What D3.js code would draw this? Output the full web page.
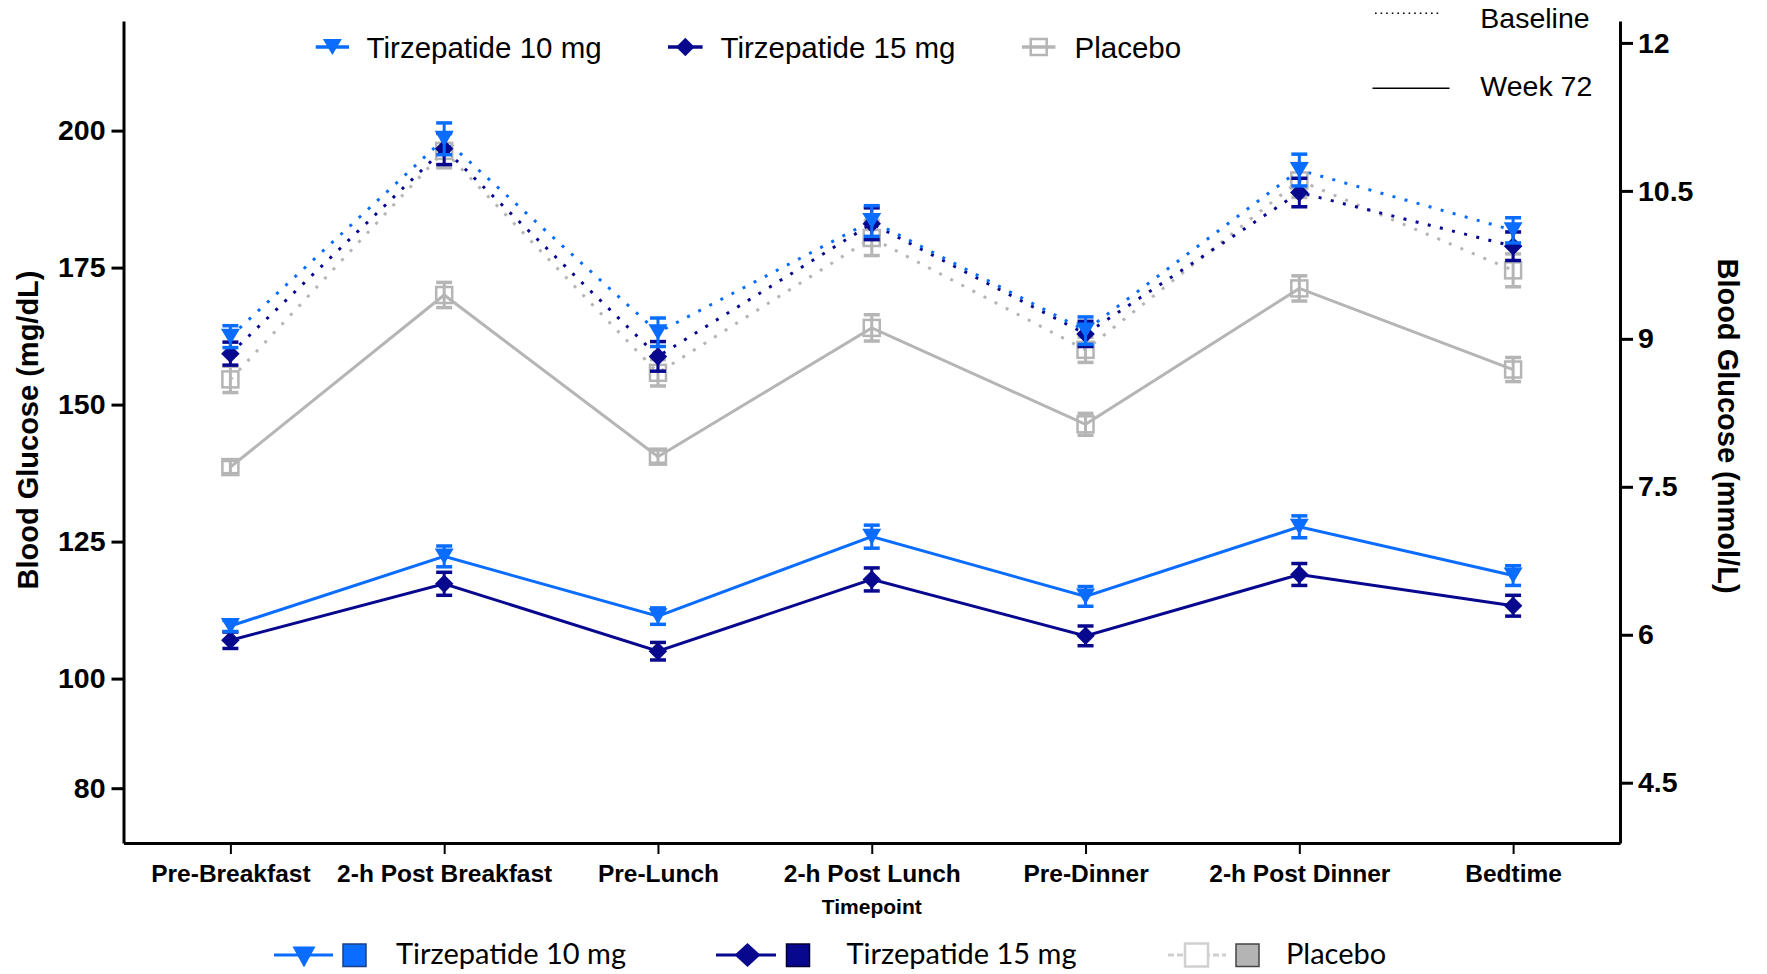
<!DOCTYPE html>
<html>
<head>
<meta charset="utf-8">
<script src="https://cdn.jsdelivr.net/npm/d3@7"></script>
<style>
  html, body { margin: 0; padding: 0; background: #ffffff; }
  svg { display: block; }
  .sans { font-family: "Liberation Sans", Arial, sans-serif; }
</style>
</head>
<body>
<svg id="chart" width="1767" height="974"></svg>
<script>
// Timepoints along the day
const categories = ["Pre-Breakfast", "2-h Post Breakfast", "Pre-Lunch", "2-h Post Lunch",
                    "Pre-Dinner", "2-h Post Dinner", "Bedtime"];

// Mean blood glucose (mg/dL) and SE at baseline
const t10Base    = [162.4, 198.5, 163.2, 183.5, 163.5, 192.8, 181.8];
const t10BaseErr = [2.0, 2.9, 2.6, 2.8, 2.5, 2.9, 2.3];
const t15Base    = [159.3, 196.7, 158.8, 183.0, 162.9, 188.7, 178.9];
const t15BaseErr = [2.1, 2.9, 2.7, 2.9, 2.3, 2.6, 2.6];
const pboBase    = [154.6, 196.3, 155.8, 180.4, 160.0, 190.9, 174.5];
const pboBaseErr = [2.4, 3.1, 2.4, 3.2, 2.3, 3.1, 3.0];

// Mean blood glucose (mg/dL) and SE at week 72
const t10Wk72    = [109.6, 122.3, 111.4, 125.9, 115.0, 127.7, 118.8];
const t10Wk72Err = [1.0, 1.9, 1.5, 2.1, 1.8, 2.0, 1.8];
const t15Wk72    = [107.0, 117.3, 105.0, 118.1, 107.8, 119.0, 113.3];
const t15Wk72Err = [1.5, 2.1, 1.6, 2.1, 1.8, 2.0, 1.9];
const pboWk72    = [138.6, 170.0, 140.5, 164.0, 146.4, 171.2, 156.4];
const pboWk72Err = [1.2, 2.3, 1.2, 2.4, 2.0, 2.3, 2.2];

// Axis ticks
const mgTicks   = [80, 100, 125, 150, 175, 200];
const mmolTicks = [4.5, 6, 7.5, 9, 10.5, 12];
const MG_PER_MMOL = 18;

// Legend labels
const armNames    = ["Tirzepatide 10 mg", "Tirzepatide 15 mg", "Placebo"];
const periodNames = ["Baseline", "Week 72"];

const C10 = "#0a6dff", C15 = "#08088f", CPB = "#b5b5b5";

const svg = d3.select("#chart");

const plotLeft = 123.5, plotRight = 1620, plotTop = 21, plotBottom = 843;
const x = d3.scalePoint().domain(categories).range([plotLeft, plotRight]).padding(0.5);
const y = d3.scaleLinear().domain([70, 220]).range([plotBottom, plotTop]);
const yR = d3.scaleLinear().domain([70 / MG_PER_MMOL, 220 / MG_PER_MMOL]).range([plotBottom, plotTop]);

// Marker shapes
function triPath(w, h) { return `M${-w/2},${-h/2}L${w/2},${-h/2}L0,${h/2}Z`; }
function diaPath(w, h) { return `M0,${-h/2}L${w/2},0L0,${h/2}L${-w/2},0Z`; }

function drawMarker(g, kind, cx, cy) {
  if (kind === "tri") {
    g.append("path").attr("d", triPath(19, 16))
      .attr("transform", `translate(${cx},${cy})`).attr("fill", C10);
  } else if (kind === "dia") {
    g.append("path").attr("d", diaPath(18.5, 18.5))
      .attr("transform", `translate(${cx},${cy})`).attr("fill", C15);
  } else {
    const s = 16;
    g.append("rect").attr("x", cx - s/2).attr("y", cy - s/2).attr("width", s).attr("height", s)
      .attr("fill", "none").attr("stroke", CPB).attr("stroke-width", 2.5);
  }
}

const series = [
  { vals: pboBase, err: pboBaseErr, color: CPB, kind: "sq",  dotted: true },
  { vals: t15Base, err: t15BaseErr, color: C15, kind: "dia", dotted: true },
  { vals: t10Base, err: t10BaseErr, color: C10, kind: "tri", dotted: true },
  { vals: pboWk72, err: pboWk72Err, color: CPB, kind: "sq",  dotted: false },
  { vals: t15Wk72, err: t15Wk72Err, color: C15, kind: "dia", dotted: false },
  { vals: t10Wk72, err: t10Wk72Err, color: C10, kind: "tri", dotted: false }
];

const plot = svg.append("g");
const line = d3.line().x((d, i) => x(categories[i])).y(d => y(d));

// Connecting lines
series.forEach(s => {
  const p = plot.append("path").datum(s.vals).attr("d", line)
    .attr("fill", "none").attr("stroke", s.color);
  if (s.dotted) p.attr("stroke-width", 3).attr("stroke-dasharray", "3 9.5");
  else p.attr("stroke-width", 3);
});

// Error bars and markers
series.forEach(s => {
  const g = plot.append("g");
  s.vals.forEach((v, i) => {
    const cx = x(categories[i]);
    const y1 = y(v + s.err[i]), y2 = y(v - s.err[i]);
    g.append("line").attr("x1", cx).attr("x2", cx).attr("y1", y1).attr("y2", y2)
      .attr("stroke", s.color).attr("stroke-width", 3);
    [y1, y2].forEach(yy => g.append("line").attr("x1", cx - 8).attr("x2", cx + 8)
      .attr("y1", yy).attr("y2", yy).attr("stroke", s.color).attr("stroke-width", 3.5));
    drawMarker(g, s.kind, cx, y(v));
  });
});

// Axes
function styleAxis(g) {
  g.selectAll("path.domain").attr("stroke", "#000").attr("stroke-width", 3);
  g.selectAll(".tick line").attr("stroke", "#000").attr("stroke-width", 3);
  g.selectAll("text").attr("fill", "#000").attr("font-family", "Liberation Sans, Arial, sans-serif")
    .attr("font-weight", "bold");
}

const gL = svg.append("g").attr("transform", `translate(${plotLeft},0)`)
  .call(d3.axisLeft(y).tickValues(mgTicks).tickSize(12).tickSizeOuter(0).tickPadding(6));
styleAxis(gL);
gL.selectAll("text").attr("font-size", 28.5);

const gR = svg.append("g").attr("transform", `translate(${plotRight},0)`)
  .call(d3.axisRight(yR).tickValues(mmolTicks).tickSize(13).tickSizeOuter(0).tickPadding(5)
    .tickFormat(d3.format("")));
styleAxis(gR);
gR.selectAll("text").attr("font-size", 28.5);

const gB = svg.append("g").attr("transform", `translate(0,${plotBottom})`)
  .call(d3.axisBottom(x).tickSize(11).tickSizeOuter(0).tickPadding(11));
styleAxis(gB);
gB.selectAll(".tick line").attr("stroke-width", 2);
gB.selectAll("text").attr("font-size", 24.5);

// Axis titles
svg.append("text").attr("class", "sans").attr("transform", "translate(38,430) rotate(-90)")
  .attr("text-anchor", "middle").attr("font-size", 29).attr("font-weight", "bold")
  .text("Blood Glucose (mg/dL)");
svg.append("text").attr("class", "sans").attr("transform", "translate(1717.5,426) rotate(90)")
  .attr("text-anchor", "middle").attr("font-size", 29).attr("font-weight", "bold")
  .text("Blood Glucose (mmol/L)");
svg.append("text").attr("class", "sans").attr("x", (plotLeft + plotRight) / 2).attr("y", 914)
  .attr("text-anchor", "middle").attr("font-size", 21).attr("font-weight", "bold")
  .text("Timepoint");

// Top legend: treatment arms
const topLeg = svg.append("g");
const topItems = [
  { kind: "tri", color: C10, x0: 315.7, x1: 349,    tx: 366.6 },
  { kind: "dia", color: C15, x0: 668,   x1: 702.6,  tx: 720.5 },
  { kind: "sq",  color: CPB, x0: 1022,  x1: 1055.4, tx: 1074.5 }
];
topItems.forEach((it, i) => {
  const ly = 47;
  topLeg.append("line").attr("x1", it.x0).attr("x2", it.x1).attr("y1", ly).attr("y2", ly)
    .attr("stroke", it.color).attr("stroke-width", 3.5);
  drawMarker(topLeg, it.kind, (it.x0 + it.x1) / 2, ly);
  topLeg.append("text").attr("class", "sans").attr("x", it.tx).attr("y", 57.5)
    .attr("font-size", 29.5).attr("fill", "#000").text(armNames[i]);
});

// Legend: line style per visit
const perLeg = svg.append("g");
perLeg.append("line").attr("x1", 1375).attr("x2", 1442).attr("y1", 13.3).attr("y2", 13.3)
  .attr("stroke", "#000").attr("stroke-width", 1.6).attr("stroke-dasharray", "1.6 4");
perLeg.append("line").attr("x1", 1372.5).attr("x2", 1449.5).attr("y1", 88.3).attr("y2", 88.3)
  .attr("stroke", "#000").attr("stroke-width", 1.5);
perLeg.append("text").attr("class", "sans").attr("x", 1480.3).attr("y", 27.5)
  .attr("font-size", 28.5).text(periodNames[0]);
perLeg.append("text").attr("class", "sans").attr("x", 1480.3).attr("y", 96)
  .attr("font-size", 28.5).text(periodNames[1]);

// Bottom legend
const botLeg = svg.append("g");
const by = 955;
const botItems = [
  { kind: "tri", color: C10, edge: "#1b3f86", x0: 274, x1: 333,  m: 304,   rx: 343,  tx: 396 },
  { kind: "dia", color: C15, edge: "#000033", x0: 716, x1: 776,  m: 747.5, rx: 786.5, tx: 846.5 },
  { kind: "sq",  color: "#b4b4b4", edge: "#444", x0: 1168, x1: 1226, m: 1196.5, rx: 1236, tx: 1286 }
];
botItems.forEach((it, i) => {
  const ln = botLeg.append("line").attr("x1", it.x0).attr("x2", it.x1).attr("y1", by).attr("y2", by)
    .attr("stroke-width", 3);
  if (it.kind === "sq") {
    ln.attr("stroke", "#cfcfcf").attr("stroke-dasharray", "6 3");
    botLeg.append("rect").attr("x", it.m - 11.5).attr("y", by - 11.5).attr("width", 23).attr("height", 23)
      .attr("fill", "#fff").attr("stroke", "#d0d0d0").attr("stroke-width", 2.5);
  } else if (it.kind === "tri") {
    ln.attr("stroke", C10);
    botLeg.append("path").attr("d", triPath(23, 21)).attr("transform", `translate(${it.m},${by + 2})`)
      .attr("fill", C10);
  } else {
    ln.attr("stroke", C15);
    botLeg.append("path").attr("d", diaPath(26, 24)).attr("transform", `translate(${it.m},${by})`)
      .attr("fill", C15);
  }
  botLeg.append("rect").attr("x", it.rx).attr("y", 944).attr("width", 23).attr("height", 22.5)
    .attr("fill", it.color).attr("stroke", it.edge).attr("stroke-width", 1.5);
  botLeg.append("text").attr("x", it.tx).attr("y", 964)
    .attr("font-family", "Lato, 'Open Sans', sans-serif").attr("font-size", 29)
    .attr("fill", "#000").text(armNames[i]);
});
</script>
</body>
</html>
